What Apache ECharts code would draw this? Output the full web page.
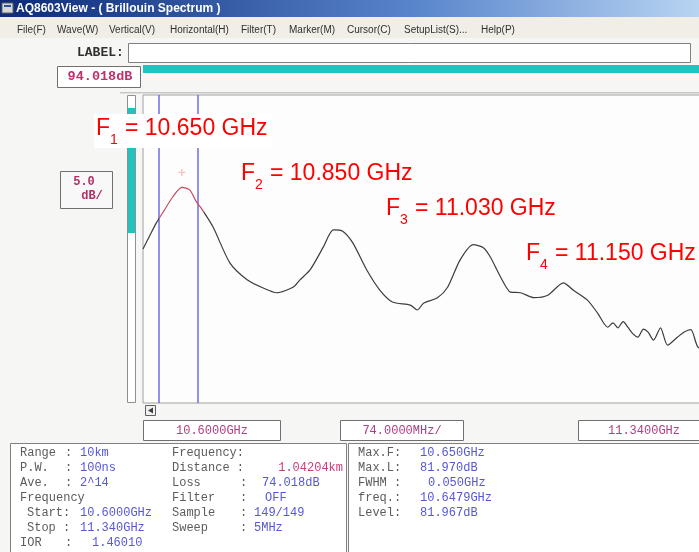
<!DOCTYPE html>
<html>
<head>
<meta charset="utf-8">
<script src="https://cdn.jsdelivr.net/npm/echarts@6/dist/echarts.min.js"></script>
<style>html,body{margin:0;padding:0;background:#f6f6f4;}#c{width:699px;height:552px;}</style>
</head>
<body>
<div id="c"></div>
<script>
// ---- data (frequency in GHz, level in dB) ----
const freqGHz = [10.600,10.608,10.617,10.625,10.638,10.650,10.660,10.669,10.674,10.690,10.712,10.734,10.754,10.772,10.793,10.802,10.815,10.832,10.845,10.857,10.870,10.888,10.905,10.921,10.944,10.953,10.961,10.979,10.992,11.008,11.025,11.038,11.047,11.060,11.073,11.086,11.103,11.121,11.141,11.154,11.172,11.185,11.198,11.205,11.211,11.218,11.224,11.230,11.237,11.244,11.250,11.257,11.266,11.275,11.288,11.296,11.305,11.314,11.325,11.340];
const levelDB = [72.0,74.0,76.2,77.8,80.4,82.0,81.6,79.6,78.8,75.6,69.7,67.0,65.7,64.9,65.8,67.0,68.6,72.3,75.1,74.9,73.0,68.6,65.3,63.4,62.9,62.1,63.2,64.1,65.8,70.2,72.7,72.2,70.7,67.5,65.0,64.9,64.1,64.5,66.5,65.3,63.7,61.6,59.3,60.0,59.2,60.2,59.3,58.3,57.7,59.0,58.5,57.2,59.2,56.4,57.7,58.5,58.9,56.1,55.6,55.9];
const cursorGHz = [10.624, 10.674];
const markerPeak = [10.650, 82.0];
const peakSubs = ['1','2','3','4'];
const peakTexts = ['= 10.650 GHz','= 10.850 GHz','= 11.030 GHz','= 11.150 GHz'];
const xStartLabel = '10.6000GHz', xDivLabel = '74.0000MHz/', xStopLabel = '11.3400GHz';
const refLevelLabel = '94.018dB';
const yDivLabel = ['5.0','dB/'];
const menuItems = ['File(F)','Wave(W)','Vertical(V)','Horizontal(H)','Filter(T)','Marker(M)','Cursor(C)','SetupList(S)...','Help(P)'];
const infoLeftLabels = ['Range','P.W.','Ave.','Frequency','Start:','Stop :','IOR'];
const infoLeftColons = [':',':',':','','','',':'];
const infoLeftValues = ['10km','100ns','2^14','','10.6000GHz','11.340GHz','1.46010'];
const infoMidLabels = ['Frequency:','Distance :','Loss','Filter','Sample','Sweep'];
const infoMidColons = ['','',':',':',':',':'];
const infoMidValues = ['','1.04204km','74.018dB','OFF','149/149','5MHz'];
const infoRightLabels = ['Max.F:','Max.L:','FWHM :','freq.:','Level:'];
const infoRightValues = ['10.650GHz','81.970dB','0.050GHz','10.6479GHz','81.967dB'];

const chart = echarts.init(document.getElementById('c'), null, {renderer:'canvas'});
const mono = '"Liberation Mono", "DejaVu Sans Mono", monospace';
const g = [];
function rect(x,y,w,h,fill,stroke,z){g.push({type:'rect',z:z||1,shape:{x:x,y:y,width:w,height:h},style:{fill:fill,stroke:stroke||null,lineWidth:1}});}
function text(t,x,y,font,fill,align,z){g.push({type:'text',z:z||5,style:{text:t,x:x,y:y,font:font,fill:fill,textAlign:align||'left',textVerticalAlign:'middle'}});}

// title bar
g.push({type:'rect',z:1,shape:{x:0,y:0,width:699,height:17},style:{fill:{type:'linear',x:0,y:0,x2:1,y2:0,colorStops:[{offset:0,color:'#0c2a78'},{offset:0.6,color:'#5a86cc'},{offset:1,color:'#b8d4f2'}]}}});
rect(2,3,11,10,'#d8d8d8','#606060',2);
rect(4,5,7,2,'#3050a0',null,3);
text('AQ8603View - ( Brillouin Spectrum )',16,8.5,'bold 12px "Liberation Sans", sans-serif','#ffffff');
// menu bar
rect(0,17,699,21,'#f0eee6',null,1);
const menuX=[17,57,109,170,241,289,347,404,481];
menuItems.forEach((m,i)=>text(m,menuX[i],30,'10px "Liberation Sans", sans-serif','#303030'));
// label row
text('LABEL:',77,53,'bold 13px "Liberation Mono", monospace','#303030');
rect(128.5,43.5,562,19,'#ffffff','#808080',2);
// ref level box + teal bar
rect(143,65,556,8,'#22c3bf',null,2);
rect(57.5,66.5,83,21,'#ffffff','#707070',2);
text(refLevelLabel,100,77,'bold 13.5px '+mono,'#c0306c','center');
// separator above plot
rect(120,92,579,1.5,'#c8c8c8',null,2);
// vertical scale bar
rect(127.5,95.5,8,307,'#ffffff','#909090',2);
rect(128,108,7,125,'#22c3bf',null,3);
// dB/div box
rect(60.5,171.5,52,37,'#f8f8f8','#707070',2);
text(yDivLabel[0],84,182,'bold 12px '+mono,'#b03068','center');
text(yDivLabel[1],92,196,'bold 12px '+mono,'#b03068','center');
// scroll button
rect(145.5,405.5,10,10,'#f0f0f0','#606060',2);
g.push({type:'polygon',z:3,shape:{points:[[148,410.5],[153,407.5],[153,413.5]]},style:{fill:'#404040'}});
// x boxes
rect(143.5,420.5,137,20,'#ffffff','#707070',2);
text(xStartLabel,212,431,'12px '+mono,'#b04080','center');
rect(340.5,420.5,123,20,'#ffffff','#707070',2);
text(xDivLabel,402,431,'12px '+mono,'#b04080','center');
rect(578.5,420.5,130,20,'#ffffff','#707070',2);
text(xStopLabel,644,431,'12px '+mono,'#b04080','center');
// info panels
rect(10.5,443.5,336,120,'#ffffff','#808080',2);
rect(348.5,443.5,360,120,'#ffffff','#808080',2);
const rowY=[453,468,483,498,513,528,543];
const lab='#5c5c5c', val='#5656d8', fnt='12px '+mono;
infoLeftLabels.forEach((t,i)=>{text(t,(i===4||i===5)?27:20,rowY[i],fnt,lab); if(infoLeftColons[i]) text(':',65,rowY[i],fnt,lab);});
infoLeftValues.forEach((t,i)=>{ if(t) text(t,i===6?92:80,rowY[i],fnt,val);});
infoMidLabels.forEach((t,i)=>{text(t,172,rowY[i],fnt,lab); if(infoMidColons[i]) text(':',240,rowY[i],fnt,lab);});
infoMidValues.forEach((t,i)=>{ if(!t) return; if(i===1) text(t,343,rowY[i],fnt,'#c83c7c','right'); else text(t,i===2?262:(i===3?265:254),rowY[i],fnt,val);});
infoRightLabels.forEach((t,i)=>text(t,358,rowY[i],fnt,lab));
infoRightValues.forEach((t,i)=>text(t,i===2?428:420,rowY[i],fnt,val));
// peak annotations
rect(94,114,178,34,'#ffffff',null,20);
const annPos=[[96,129],[241,174],[386,209],[526,254]];
const redFont='23px "Liberation Sans", Arial, sans-serif';
annPos.forEach((p,i)=>{
  text('F',p[0],p[1],redFont,'#ff0000','left',30);
  text(peakSubs[i],p[0]+14,p[1]+11,'14px "Liberation Sans", Arial, sans-serif','#ff0000','left',30);
  text(peakTexts[i],p[0]+29,p[1],redFont,'#ff0000','left',30);
});

chart.setOption({
  backgroundColor:'#f6f6f4',
  animation:false,
  grid:{left:143,top:95,width:575,height:308,show:true,backgroundColor:'#fdfdfd',borderColor:'#a0a0a0',borderWidth:1,containLabel:false,outerBoundsMode:'none'},
  xAxis:{type:'value',min:10.6,max:11.34,interval:0.074,axisLabel:{show:false},axisTick:{show:false},axisLine:{show:false},splitLine:{show:false}},
  yAxis:{type:'value',min:47,max:97,interval:5,axisLabel:{show:false},axisTick:{show:false},axisLine:{show:false},splitLine:{show:false}},
  visualMap:{show:false,type:'piecewise',dimension:0,seriesIndex:0,pieces:[{lt:10.62,color:'#3c3c3c'},{gte:10.62,lte:10.678,color:'#c8485a'},{gt:10.678,color:'#3c3c3c'}]},
  series:[{
    type:'line',
    data:freqGHz.map((f,i)=>[f,levelDB[i]]),
    showSymbol:false,
    smooth:0.25,
    lineStyle:{width:1.2},
    z:5,
    markLine:{silent:true,symbol:['none','none'],label:{show:false},lineStyle:{color:'#6c6ce0',width:1.5,type:'solid'},data:cursorGHz.map(c=>({xAxis:c}))},
    markPoint:{silent:true,symbol:'path://M4,0H6V4H10V6H6V10H4V6H0V4H4Z',symbolSize:7,symbolOffset:[0,-15],label:{show:false},itemStyle:{color:'#f3c4c4'},data:[{coord:markerPeak}]}
  }],
  graphic:{elements:g}
});
</script>
</body>
</html>
